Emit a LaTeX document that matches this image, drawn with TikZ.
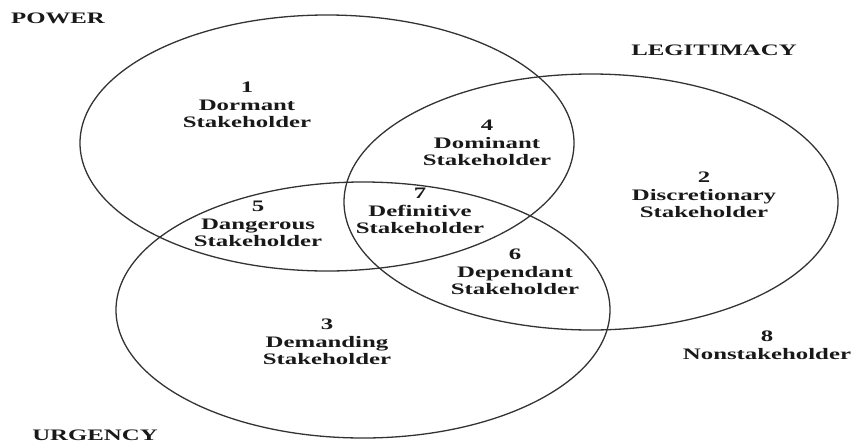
\documentclass[tikz,border=0pt]{standalone}
\usepackage{fontspec}
\setmainfont{Liberation Serif}[FakeStretch=1.55]
\begin{document}
\begin{tikzpicture}[x=1pt,y=-1pt,
  setring/.style={draw=black!80, line width=1.3pt},
  region/.style={font=\fontsize{16}{17.5}\selectfont\bfseries, align=center, inner sep=0pt, text=black!90},
  setname/.style={font=\fontsize{16}{17.5}\selectfont\bfseries, inner sep=0pt, text=black!90}]
  \useasboundingbox (0,0) rectangle (853,445);

  % the three attribute sets
  \draw[setring] (327,143) ellipse [x radius=247, y radius=128];
  \draw[setring] (591,202) ellipse [x radius=247, y radius=128];
  \draw[setring] (363,310) ellipse [x radius=247, y radius=128];

  % set names
  \node[setname] (power) at (58,18) {POWER};
  \node[setname] (legit) at (714,50) {LEGITIMACY};
  \node[setname] (urgency) at (95,435) {URGENCY};

  % stakeholder classes
  \node[region] (r1) at (247,105) {1\\Dormant\\Stakeholder};
  \node[region] (r4) at (487,143) {4\\Dominant\\Stakeholder};
  \node[region] (r2) at (704,195) {2\\Discretionary\\Stakeholder};
  \node[region] (r5) at (258,224) {5\\Dangerous\\Stakeholder};
  \node[region] (r7) at (420,211) {7\\Definitive\\Stakeholder};
  \node[region] (r6) at (515,272) {6\\Dependant\\Stakeholder};
  \node[region] (r3) at (327,342) {3\\Demanding\\Stakeholder};
  \node[region] (r8) at (767,345) {8\\Nonstakeholder};
\end{tikzpicture}
\end{document}
